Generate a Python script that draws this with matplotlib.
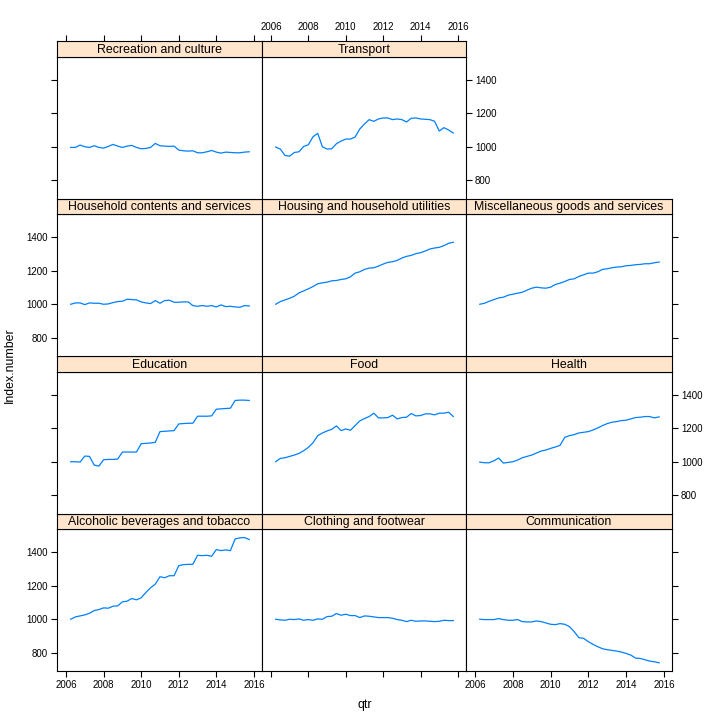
import numpy as np
import matplotlib
matplotlib.use('Agg')
import matplotlib.pyplot as plt

plt.rcParams['font.family'] = ['Liberation Sans', 'DejaVu Sans']

# quarterly index, 2006 Q2 .. 2015 Q4
qtr = np.arange(2006.25, 2016.0, 0.25)

groups = ['Alcoholic beverages and tobacco', 'Clothing and footwear', 'Communication',
          'Education', 'Food', 'Health',
          'Household contents and services', 'Housing and household utilities',
          'Miscellaneous goods and services',
          'Recreation and culture', 'Transport']

alcohol = [1000, 1014, 1020, 1026, 1036, 1052, 1058, 1068, 1066, 1078, 1080,
           1104, 1108, 1124, 1116, 1128, 1160, 1188, 1210, 1254, 1248, 1260, 1260,
           1320, 1326, 1328, 1328, 1382, 1380, 1382, 1376, 1416, 1410, 1414, 1410,
           1480, 1486, 1488, 1476]
clothing = [1000, 996, 994, 1000, 998, 1002, 994, 998, 994, 1002, 1000,
            1016, 1018, 1034, 1024, 1030, 1022, 1022, 1010, 1020, 1018, 1014, 1010,
            1010, 1010, 1006, 998, 994, 986, 994, 988, 990, 990, 988, 986,
            988, 994, 992, 992]
communication = [1000, 998, 998, 998, 1004, 998, 994, 994, 998, 986, 984,
                 984, 990, 986, 978, 970, 968, 974, 970, 956, 926, 890, 886,
                 866, 850, 836, 824, 818, 814, 810, 804, 796, 786, 768, 766,
                 758, 750, 746, 740]
education = [1000, 1000, 998, 1034, 1032, 980, 974, 1012, 1014, 1014, 1016,
             1058, 1058, 1058, 1058, 1108, 1110, 1112, 1116, 1180, 1182, 1184, 1186,
             1226, 1228, 1230, 1230, 1272, 1272, 1272, 1274, 1314, 1316, 1318, 1320,
             1366, 1368, 1368, 1366]
food = [1000, 1020, 1024, 1032, 1040, 1050, 1066, 1086, 1114, 1156, 1172,
        1184, 1194, 1214, 1186, 1196, 1188, 1216, 1244, 1258, 1270, 1290, 1262,
        1262, 1264, 1278, 1256, 1264, 1266, 1288, 1274, 1276, 1286, 1286, 1280,
        1290, 1290, 1296, 1270]
health = [998, 994, 994, 1006, 1022, 992, 996, 1000, 1010, 1024, 1032,
          1040, 1052, 1064, 1070, 1080, 1088, 1098, 1146, 1156, 1162, 1172, 1176,
          1180, 1190, 1202, 1216, 1228, 1236, 1240, 1246, 1248, 1256, 1264, 1266,
          1270, 1270, 1262, 1268]
household = [1000, 1008, 1008, 998, 1008, 1006, 1006, 1000, 1002, 1010, 1016,
             1018, 1030, 1028, 1026, 1014, 1008, 1004, 1022, 1006, 1022, 1024, 1012,
             1012, 1014, 1014, 992, 988, 992, 988, 992, 984, 996, 986, 988,
             984, 982, 992, 990]
housing = [1000, 1016, 1026, 1036, 1048, 1068, 1080, 1092, 1106, 1122, 1128,
           1132, 1140, 1142, 1148, 1152, 1164, 1186, 1194, 1208, 1216, 1218, 1228,
           1240, 1250, 1254, 1262, 1276, 1286, 1292, 1302, 1308, 1318, 1330, 1336,
           1340, 1350, 1364, 1370]
misc = [1000, 1006, 1018, 1028, 1038, 1042, 1054, 1060, 1066, 1072, 1084,
        1096, 1102, 1098, 1096, 1102, 1118, 1126, 1136, 1148, 1152, 1166, 1176,
        1186, 1186, 1194, 1208, 1212, 1218, 1222, 1224, 1230, 1232, 1236, 1238,
        1242, 1242, 1248, 1252]
recreation = [996, 996, 1010, 1000, 996, 1006, 996, 992, 1002, 1014, 1004,
              996, 1004, 1008, 996, 988, 990, 996, 1020, 1006, 1004, 1002, 1004,
              980, 976, 974, 976, 964, 964, 970, 978, 968, 962, 968, 966,
              964, 964, 968, 970]
transport = [998, 986, 948, 944, 966, 970, 1002, 1012, 1060, 1080, 1000,
             986, 988, 1018, 1034, 1046, 1046, 1058, 1106, 1136, 1162, 1152, 1166,
             1172, 1172, 1162, 1166, 1162, 1148, 1170, 1172, 1166, 1164, 1162, 1152,
             1094, 1114, 1100, 1082]

series = [alcohol, clothing, communication, education, food, health,
          household, housing, misc, recreation, transport]

xticks = [2006, 2008, 2010, 2012, 2014, 2016]
yticks = [800, 1000, 1200, 1400]
xlim = (2005.52, 2016.43)

W = H = 720.0
col_edges = [57, 262, 466, 672]
top0 = 41.0
strip_h = 15.5
panel_h = 142.0
ncol, nrow = 3, 4

fig = plt.figure(figsize=(7.2, 7.2), dpi=100)

def frac(x0, y0, x1, y1):
    return [x0 / W, 1 - y1 / H, (x1 - x0) / W, (y1 - y0) / H]

tick_kw = dict(length=4.5, width=0.8, color='black', labelsize=7, pad=2)

for i, (name, vals) in enumerate(zip(groups, series)):
    r = nrow - 1 - i // ncol   # row index from top
    c = i % ncol
    ys = top0 + r * (strip_h + panel_h)
    x0, x1 = col_edges[c], col_edges[c + 1]

    ax = fig.add_axes(frac(x0, ys + strip_h, x1, ys + strip_h + panel_h))
    ax.plot(qtr, vals, color='#0080ff', lw=0.9)
    ax.set_xlim(*xlim)
    ax.set_ylim(691, 1539)
    ax.set_xticks(xticks)
    ax.set_yticks(yticks)
    for s in ax.spines.values():
        s.set_linewidth(0.8)

    bottom_row = (r == nrow - 1)
    left_col = (c == 0)
    right_col = (c == 2) or (r == 0 and c == 1)

    ax.tick_params(axis='x', direction='out',
                   bottom=bottom_row, labelbottom=bottom_row and c != 1,
                   top=False, labeltop=False, **tick_kw)
    ax.tick_params(axis='y', direction='out',
                   left=left_col, labelleft=left_col and r in (1, 3),
                   right=right_col, labelright=right_col and r in (0, 2), **tick_kw)

    # strip on top of the panel; top axis of the top row sits above it
    sax = fig.add_axes(frac(x0, ys, x1, ys + strip_h))
    sax.set_facecolor('#ffe5cc')
    sax.set_xlim(*xlim)
    sax.set_yticks([])
    if r == 0:
        sax.set_xticks(xticks)
        sax.tick_params(axis='x', direction='out', bottom=False, labelbottom=False,
                        top=True, labeltop=(c == 1), **tick_kw)
    else:
        sax.set_xticks([])
    for s in sax.spines.values():
        s.set_linewidth(0.8)
    sax.text(0.5, 0.45, name, ha='center', va='center', fontsize=8.9,
             transform=sax.transAxes)

fig.text(365 / W, 1 - 705 / H, 'qtr', ha='center', va='center', fontsize=8.9)
fig.text(10 / W, 1 - 365 / H, 'Index.number', ha='center', va='center',
         rotation=90, fontsize=8.9)

fig.savefig('out.png', dpi=100)
